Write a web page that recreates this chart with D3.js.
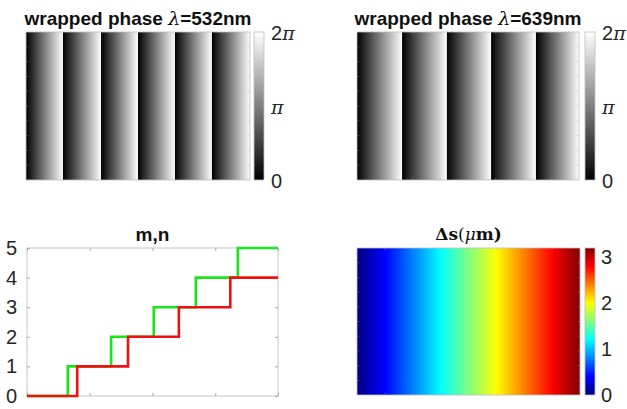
<!DOCTYPE html>
<html><head><meta charset="utf-8">
<script src="https://cdn.jsdelivr.net/npm/d3@7"></script>
<style>body{margin:0;background:#fff}svg{display:block}</style>
</head><body>
<svg id="c" width="627" height="409"></svg>
<script>
// ---- data ----
const wrap532Edges = [0, 0.165, 0.335, 0.50, 0.665, 0.83, 1.0];   // phase wrap positions (fraction of width)
const wrap639Edges = [0, 0.203, 0.405, 0.604, 0.806, 1.0];
const phaseTicks = [0, Math.PI, 2 * Math.PI];
const phaseTickLabels = ["0", "π", "2π"];
const stepX = [0, 1, 2, 3, 4];
const greenX = [0, 0.65, 1.34, 2.02, 2.69, 3.36, 4.0];
const greenY = [0, 1, 2, 3, 4, 5, 5];
const redX = [0, 0.80, 1.61, 2.42, 3.24, 4.0];
const redY = [0, 1, 2, 3, 4, 4];
const mnTicks = [0, 1, 2, 3, 4, 5];
const dsRange = [0, 3.2];
const dsTicks = [0, 1, 2, 3];
const jetStops = [0, 0.125, 0.375, 0.625, 0.875, 1];
const jetColors = ["#000080", "#0000ff", "#00ffff", "#ffff00", "#ff0000", "#800000"];

const svg = d3.select("#c");
const defs = svg.append("defs");
const labelColor = "#262626";
const frameColor = "#bdbdbd";
const sansFont = "'Liberation Sans', Arial, Helvetica, sans-serif";
const serifFont = "'DejaVu Serif', 'Liberation Serif', serif";

// gray gradient
const gGray = defs.append("linearGradient").attr("id", "gray").attr("x1", 0).attr("x2", 1).attr("y1", 0).attr("y2", 0);
gGray.append("stop").attr("offset", 0).attr("stop-color", "#000");
gGray.append("stop").attr("offset", 1).attr("stop-color", "#fff");
const gGrayV = defs.append("linearGradient").attr("id", "grayV").attr("x1", 0).attr("x2", 0).attr("y1", 1).attr("y2", 0);
gGrayV.append("stop").attr("offset", 0).attr("stop-color", "#000");
gGrayV.append("stop").attr("offset", 1).attr("stop-color", "#fff");
const jetH = defs.append("linearGradient").attr("id", "jetH").attr("x1", 0).attr("x2", 1).attr("y1", 0).attr("y2", 0);
const jetV = defs.append("linearGradient").attr("id", "jetV").attr("x1", 0).attr("x2", 0).attr("y1", 1).attr("y2", 0);
jetStops.forEach((s, i) => {
  jetH.append("stop").attr("offset", s).attr("stop-color", jetColors[i]);
  jetV.append("stop").attr("offset", s).attr("stop-color", jetColors[i]);
});

function faintTicks(g, x0, x1, y0, y1, nx, ny) {
  const tx = d3.scaleLinear().domain([0, nx]).range([x0, x1]);
  const ty = d3.scaleLinear().domain([0, ny]).range([y0, y1]);
  const st = (sel) => sel.attr("stroke", "#aaa").attr("stroke-width", 0.6).attr("opacity", 0.5);
  for (let i = 1; i < nx; i++) {
    st(g.append("line").attr("x1", tx(i)).attr("x2", tx(i)).attr("y1", y0).attr("y2", y0 + 2.5));
    st(g.append("line").attr("x1", tx(i)).attr("x2", tx(i)).attr("y1", y1).attr("y2", y1 - 2.5));
  }
  for (let j = 1; j < ny; j++) {
    st(g.append("line").attr("x1", x1).attr("x2", x1 - 2.5).attr("y1", ty(j)).attr("y2", ty(j)));
    st(g.append("line").attr("x1", x0).attr("x2", x0 + 2.5).attr("y1", ty(j)).attr("y2", ty(j)));
  }
}

function phasePanel(edges, x0, x1, y0, y1, cbx, wl) {
  const g = svg.append("g");
  const x = d3.scaleLinear().domain([0, 1]).range([x0, x1]);
  const pairs = d3.pairs(edges);
  g.selectAll("rect.s").data(pairs).join("rect")
    .attr("x", d => x(d[0])).attr("width", d => x(d[1]) - x(d[0]) + 0.3)
    .attr("y", y0).attr("height", y1 - y0).attr("fill", "url(#gray)");
  g.append("rect").attr("x", x0).attr("y", y0).attr("width", x1 - x0).attr("height", y1 - y0)
    .attr("fill", "none").attr("stroke", frameColor).attr("stroke-width", 0.8);
  faintTicks(g, x0, x1, y0, y1, 8, 10);
  // colorbar
  const cy = d3.scaleLinear().domain([0, 2 * Math.PI]).range([y1, y0]);
  g.append("rect").attr("x", cbx).attr("y", y0).attr("width", 10).attr("height", y1 - y0)
    .attr("fill", "url(#grayV)").attr("stroke", frameColor).attr("stroke-width", 0.8);
  const axis = d3.axisRight(cy).tickValues(phaseTicks).tickSize(0).tickFormat((d, i) => phaseTickLabels[i]);
  const ag = g.append("g").attr("transform", `translate(${cbx + 10},0)`).call(axis);
  ag.select(".domain").remove();
  ag.selectAll("text").attr("x", 7).attr("fill", labelColor).style("font-size", "20px")
    .style("font-family", sansFont).attr("dy", "0.36em");
  ag.selectAll("text").each(function (d, i) {
    const t = d3.select(this);
    if (i > 0) {
      const lab = phaseTickLabels[i];
      t.text(null);
      if (lab.length > 1) t.append("tspan").text(lab[0]);
      t.append("tspan").text("π").style("font-family", serifFont).style("font-style", "italic").style("font-size", "19px");
    }
  });
  // title
  const tt = g.append("text").attr("x", (x0 + x1) / 2).attr("y", 25).attr("text-anchor", "middle")
    .attr("fill", "#111").style("font-family", sansFont).style("font-weight", "bold").style("font-size", "19px");
  tt.append("tspan").text("wrapped phase ");
  tt.append("tspan").text("λ").style("font-family", serifFont).style("font-weight", "normal").style("font-style", "italic");
  tt.append("tspan").text("=" + wl + "nm");
}

phasePanel(wrap532Edges, 26, 250, 32, 180, 254, "532");
phasePanel(wrap639Edges, 357, 579, 32, 180, 585, "639");

// ---- m,n step plot ----
{
  const x0 = 27, x1 = 278, y0 = 248, y1 = 396;
  const x = d3.scaleLinear().domain([0, 4]).range([x0, x1]);
  const y = d3.scaleLinear().domain([0, 5]).range([y1, y0]);
  const g = svg.append("g");
  g.append("rect").attr("x", x0).attr("y", y0).attr("width", x1 - x0).attr("height", y1 - y0)
    .attr("fill", "#fff").attr("stroke", "#c8c8c8").attr("stroke-width", 1);
  const tickStyle = (sel) => { sel.select(".domain").remove(); sel.selectAll("line").attr("stroke", "#aaa"); };
  tickStyle(g.append("g").attr("transform", `translate(0,${y1})`).call(d3.axisBottom(x).tickValues(stepX).tickSize(-3).tickFormat("")));
  tickStyle(g.append("g").attr("transform", `translate(0,${y0})`).call(d3.axisTop(x).tickValues(stepX).tickSize(-3).tickFormat("")));
  const yt = g.append("g").attr("transform", `translate(${x0},0)`).call(d3.axisLeft(y).tickValues(mnTicks).tickSize(-3).tickPadding(10).tickFormat(d3.format("d")));
  tickStyle(yt);
  yt.selectAll("text").attr("fill", labelColor).style("font-size", "20px").style("font-family", sansFont);
  tickStyle(g.append("g").attr("transform", `translate(${x1},0)`).call(d3.axisRight(y).tickValues(mnTicks).tickSize(-3).tickFormat("")));

  const line = d3.line().x(d => x(d[0])).y(d => y(d[1])).curve(d3.curveStepAfter);
  g.append("path").datum(d3.zip(greenX, greenY)).attr("d", line).attr("fill", "none")
    .attr("stroke", "#19e619").attr("stroke-width", 2.6);
  g.append("path").datum(d3.zip(redX, redY)).attr("d", line).attr("fill", "none")
    .attr("stroke", "#f01010").attr("stroke-width", 2.6);
  g.append("text").attr("x", (x0 + x1) / 2).attr("y", 241).attr("text-anchor", "middle")
    .attr("fill", "#111").style("font-family", sansFont).style("font-weight", "bold").style("font-size", "19px").text("m,n");
}

// ---- Δs panel ----
{
  const x0 = 357, x1 = 580, y0 = 248, y1 = 395, cbx = 585;
  const g = svg.append("g");
  g.append("rect").attr("x", x0).attr("y", y0).attr("width", x1 - x0).attr("height", y1 - y0)
    .attr("fill", "url(#jetH)").attr("stroke", frameColor).attr("stroke-width", 0.8);
  faintTicks(g, x0, x1, y0, y1, 8, 10);
  const cy = d3.scaleLinear().domain(dsRange).range([y1, y0]);
  g.append("rect").attr("x", cbx).attr("y", y0).attr("width", 10).attr("height", y1 - y0)
    .attr("fill", "url(#jetV)").attr("stroke", frameColor).attr("stroke-width", 0.8);
  const ag = g.append("g").attr("transform", `translate(${cbx + 10},0)`).call(d3.axisRight(cy).tickValues(dsTicks).tickSize(0).tickPadding(6).tickFormat(d3.format("d")));
  ag.select(".domain").remove();
  ag.selectAll("text").attr("fill", labelColor).style("font-size", "20px").style("font-family", sansFont);
  const t = g.append("text").attr("x", (x0 + x1) / 2).attr("y", 240).attr("text-anchor", "middle")
    .attr("fill", "#111").style("font-family", serifFont).style("font-size", "17px");
  t.append("tspan").text("Δs").style("font-weight", "bold");
  t.append("tspan").text("(");
  t.append("tspan").text("μ").style("font-style", "italic");
  t.append("tspan").text("m)").style("font-weight", "bold");
}
</script>
</body></html>
